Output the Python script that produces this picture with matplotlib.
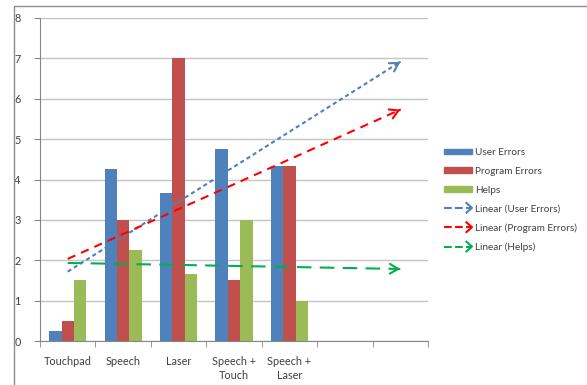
import matplotlib
matplotlib.use('Agg')
import matplotlib.pyplot as plt
import numpy as np
from matplotlib.lines import Line2D
from matplotlib.patches import Patch, Rectangle
from matplotlib.legend_handler import HandlerBase

plt.rcParams['font.family'] = ['Lato', 'DejaVu Sans']

# Data
categories = ['Touchpad', 'Speech', 'Laser', 'Speech +\nTouch', 'Speech +\nLaser', '', '']
user_errors = [0.25, 4.25, 3.67, 4.75, 4.33]
program_errors = [0.5, 3.0, 7.0, 1.5, 4.33]
helps = [1.5, 2.25, 1.67, 3.0, 1.0]
series_names = ['User Errors', 'Program Errors', 'Helps']

# Style
BAR_COLS = ['#4F81BD', '#C0504D', '#9BBB59']
TREND_COLS = ['#4F81BD', '#FF0000', '#00B050']
TREND_DASH = [(0, (2, 1.5)), (0, (4, 3)), (0, (7, 4))]
GRID = '#C4C4C4'
TXT = '#404040'


class ArrowHandler(HandlerBase):
    def create_artists(self, legend, orig, xd, yd, width, height, fontsize, trans):
        y = height / 2 - yd
        x0, x1 = -xd, width - xd
        line = Line2D([x0, x1 - 1], [y, y], color=orig.get_color(),
                      linestyle=orig.get_linestyle(), lw=orig.get_linewidth())
        head = Line2D([x1 - 4, x1, x1 - 4], [y + 3.5, y, y - 3.5],
                      color=orig.get_color(), lw=orig.get_linewidth())
        for a in (line, head):
            a.set_transform(trans)
        return [line, head]


fig = plt.figure(figsize=(5.87, 3.85), dpi=100)
fig.patches.append(Rectangle((14 / 587, -0.05), 1.0, 1 - 6 / 385 + 0.05,
                             transform=fig.transFigure, fill=False,
                             edgecolor='#8C8C8C', lw=1.0))
ax = fig.add_axes([40 / 587, 1 - 341 / 385, 388 / 587, 323 / 385])

n = len(categories)
x = np.arange(1, len(user_errors) + 1)
w = 0.224
for i, vals in enumerate([user_errors, program_errors, helps]):
    ax.bar(x + (i - 1) * w, vals, width=w, color=BAR_COLS[i], zorder=2)

# linear trendlines, forecast forward 2 periods
xt = np.array([1, 7])
trend_handles = []
for i, vals in enumerate([user_errors, program_errors, helps]):
    k, b = np.polyfit(x, vals, 1)
    yt = k * xt + b
    ax.plot(xt, yt, color=TREND_COLS[i], linestyle=TREND_DASH[i], lw=1.5, zorder=3)
    ax.annotate('', xy=(xt[1], yt[1]), xytext=(xt[1] - 0.05, yt[1] - 0.05 * k),
                arrowprops=dict(arrowstyle='->,head_length=0.6,head_width=0.35',
                                color=TREND_COLS[i], lw=1.5), zorder=3)
    trend_handles.append(Line2D([], [], color=TREND_COLS[i],
                                linestyle=TREND_DASH[i], lw=1.5))

ax.set_xlim(0.5, n + 0.5)
ax.set_ylim(0, 8)
ax.set_yticks(range(0, 9))
ax.yaxis.grid(True, color=GRID, lw=1)
ax.set_axisbelow(True)
ax.set_xticks(np.arange(1, n + 1))
ax.set_xticklabels(categories, linespacing=1.35)
ax.set_xticks(np.arange(0.5, n + 1.5), minor=True)
ax.tick_params(axis='x', which='major', length=0, labelsize=7.8, colors=TXT, pad=11)
ax.tick_params(axis='x', which='minor', length=4, color='#868686', direction='out')
ax.tick_params(axis='y', length=4, color='#868686', labelsize=7.8, colors=TXT, pad=10)
for s in ['top', 'right']:
    ax.spines[s].set_visible(False)
for s in ['left', 'bottom']:
    ax.spines[s].set_color('#868686')

handles = [Patch(color=c) for c in BAR_COLS] + trend_handles
labels = series_names + ['Linear (%s)' % s for s in series_names]
hmap = {h: ArrowHandler() for h in trend_handles}
leg = fig.legend(handles, labels, loc='upper left',
                 bbox_to_anchor=(435 / 587, 1 - 139 / 385), frameon=False,
                 fontsize=7.2, handlelength=2.8, handleheight=0.5,
                 handletextpad=0.3, labelspacing=0.98, handler_map=hmap)
for t in leg.get_texts():
    t.set_color(TXT)

fig.savefig('out.png', dpi=100)
